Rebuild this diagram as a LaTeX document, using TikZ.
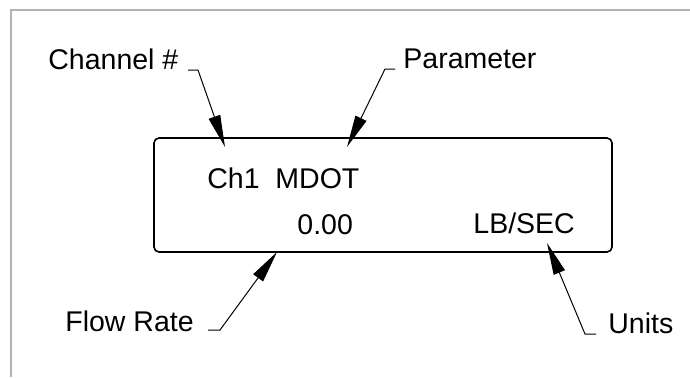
\documentclass[tikz,border=0pt]{standalone}
\usepackage{fontspec}
\setmainfont{Liberation Sans}
\usetikzlibrary{arrows.meta}
\begin{document}
\begin{tikzpicture}[x=0.5pt,y=-0.5pt,
  lbl/.style={anchor=base west, inner sep=0pt, font=\fontsize{14.25pt}{17pt}\selectfont},
  leader/.style={line width=0.5pt, line join=miter, -{Triangle[length=16pt,width=6pt]}},
  frame/.style={draw=black!30, line width=1pt},
  display/.style={draw, line width=0.8pt, rounded corners=2.5pt, inner sep=0pt,
                  minimum width=229pt, minimum height=57pt}]
\useasboundingbox (0,0) rectangle (690,377);

% sheet border
\draw[frame] (11,377) -- (11,10) -- (690,10);

% display window
\node[display] (disp) at (383,195) {};

% display contents
\node[lbl] (chmd) at (207,188) {Ch1\ \ MDOT};
\node[lbl] (val)  at (297,234) {0.00};
\node[lbl] (unit) at (473,233) {LB/SEC};

% callout labels
\node[lbl] (lchan)  at (48,69)   {Channel \#};
\node[lbl] (lparam) at (403,68)  {Parameter};
\node[lbl] (lflow)  at (65,331)  {Flow Rate};
\node[lbl] (lunits) at (608,333) {Units};

% leader geometry
\coordinate (cA) at (188,70);  \coordinate (cB) at (198,70);  \coordinate (cT) at (225,147);
\coordinate (pA) at (395,69);  \coordinate (pB) at (385,69);  \coordinate (pT) at (347,147);
\coordinate (fA) at (208,330); \coordinate (fB) at (220,330); \coordinate (fT) at (277,252);
\coordinate (uA) at (596,334); \coordinate (uB) at (585,334); \coordinate (uT) at (547,243);

\draw[leader] (cA) -- (cB) -- (cT);
\draw[leader] (pA) -- (pB) -- (pT);
\draw[leader] (fA) -- (fB) -- (fT);
\draw[leader] (uA) -- (uB) -- (uT);
\end{tikzpicture}
\end{document}
